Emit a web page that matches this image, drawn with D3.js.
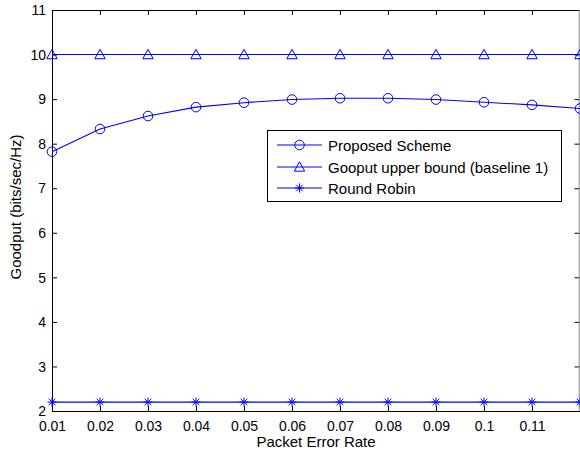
<!DOCTYPE html>
<html><head><meta charset="utf-8">
<script src="https://cdn.jsdelivr.net/npm/d3@7"></script>
<style>body{margin:0;background:#fff}svg{display:block}text{font-family:"Liberation Sans",Arial,sans-serif}</style>
</head><body><svg id="c" width="580" height="456"></svg>
<script>
const per = [0.01,0.02,0.03,0.04,0.05,0.06,0.07,0.08,0.09,0.10,0.11,0.12];
const proposed = [7.82,8.33,8.62,8.82,8.92,8.99,9.02,9.02,8.99,8.93,8.87,8.79];
const upperBound = [10,10,10,10,10,10,10,10,10,10,10,10];
const roundRobin = [2.2,2.2,2.2,2.2,2.2,2.2,2.2,2.2,2.2,2.2,2.2,2.2];
const xTicks = [0.01,0.02,0.03,0.04,0.05,0.06,0.07,0.08,0.09,0.1,0.11];
const xTickLabels = ["0.01","0.02","0.03","0.04","0.05","0.06","0.07","0.08","0.09","0.1","0.11"];
const yTicks = [2,3,4,5,6,7,8,9,10,11];
const seriesNames = ["Proposed Scheme","Gooput upper bound (baseline 1)","Round Robin"];
const markers = ["circle","triangle","star"];

const svg = d3.select("#c");
const L=52, R=580, T=10, B=411;
const x = d3.scaleLinear().domain([0.01,0.12]).range([L,R]);
const y = d3.scaleLinear().domain([2,11]).range([B,T]);
const blue = "#0000ff";

// axes
const gx = svg.append("g").attr("transform",`translate(0,${B})`)
  .call(d3.axisBottom(x).tickValues(xTicks).tickFormat((d,i)=>xTickLabels[i]).tickSize(-5).tickPadding(10));
const gxt = svg.append("g").attr("transform",`translate(0,${T})`)
  .call(d3.axisTop(x).tickValues(xTicks).tickFormat("").tickSize(-5));
const gy = svg.append("g").attr("transform",`translate(${L},0)`)
  .call(d3.axisLeft(y).tickValues(yTicks).tickFormat(d3.format("d")).tickSize(-5).tickPadding(6));
const gyr = svg.append("g").attr("transform",`translate(${R-0.5},0)`)
  .call(d3.axisRight(y).tickValues(yTicks).tickFormat("").tickSize(-5));
[gx,gxt,gy,gyr].forEach(g=>{
  g.select(".domain").remove();
  g.selectAll("line").attr("stroke","#000");
  g.selectAll("text").attr("font-size",14).attr("fill","#000").attr("font-family","Liberation Sans, Arial, sans-serif");
});
gy.selectAll("text").attr("dy","0.34em");
svg.append("line").attr("x1",L).attr("x2",R).attr("y1",B+0.5).attr("y2",B+0.5).attr("stroke","#000");
svg.append("line").attr("x1",L).attr("x2",R).attr("y1",T+0.5).attr("y2",T+0.5).attr("stroke","#000");
svg.append("line").attr("x1",L+0.5).attr("x2",L+0.5).attr("y1",T).attr("y2",B).attr("stroke","#000");
svg.append("line").attr("x1",R-0.8).attr("x2",R-0.8).attr("y1",T).attr("y2",B).attr("stroke","#888");

function drawMarker(g, type, cx, cy){
  if(type==="circle"){
    g.append("circle").attr("cx",cx).attr("cy",cy).attr("r",4.8).attr("fill","none").attr("stroke",blue).attr("stroke-width",1);
  } else if(type==="triangle"){
    const s=5.2;
    g.append("path").attr("d",`M${cx},${cy-s}L${cx+s},${cy+s*0.8}L${cx-s},${cy+s*0.8}Z`).attr("fill","none").attr("stroke",blue).attr("stroke-width",1);
  } else {
    const s=4.6, d=3.3;
    g.append("path").attr("d",`M${cx},${cy-s}V${cy+s}M${cx-s},${cy}H${cx+s}M${cx-d},${cy-d}L${cx+d},${cy+d}M${cx-d},${cy+d}L${cx+d},${cy-d}`)
      .attr("fill","none").attr("stroke",blue).attr("stroke-width",1);
  }
}

const allSeries = [proposed, upperBound, roundRobin];
const line = d3.line().x((d,i)=>x(per[i])).y(d=>y(d));
allSeries.forEach((vals,k)=>{
  svg.append("path").datum(vals).attr("d",line).attr("fill","none").attr("stroke",blue).attr("stroke-width",1.1);
  const g = svg.append("g");
  vals.forEach((v,i)=>drawMarker(g, markers[k], x(per[i]), y(v)));
});

// legend
const lg = svg.append("g");
lg.append("rect").attr("x",267.5).attr("y",130.5).attr("width",294).attr("height",71).attr("fill","#fff").attr("stroke","#000");
const ly=[145,167,188];
seriesNames.forEach((n,k)=>{
  lg.append("line").attr("x1",277).attr("x2",322).attr("y1",ly[k]).attr("y2",ly[k]).attr("stroke",blue).attr("stroke-width",1.1);
  drawMarker(lg, markers[k], 299.5, ly[k]);
  lg.append("text").attr("x",328).attr("y",ly[k]+5.5).attr("font-size",15).text(n);
});

// axis labels
svg.append("text").attr("x",(L+R)/2).attr("y",447).attr("text-anchor","middle").attr("font-size",15).text("Packet Error Rate");
svg.append("text").attr("transform",`translate(21,207) rotate(-90)`).attr("text-anchor","middle").attr("font-size",15).text("Goodput (bits/sec/Hz)");
</script></body></html>
